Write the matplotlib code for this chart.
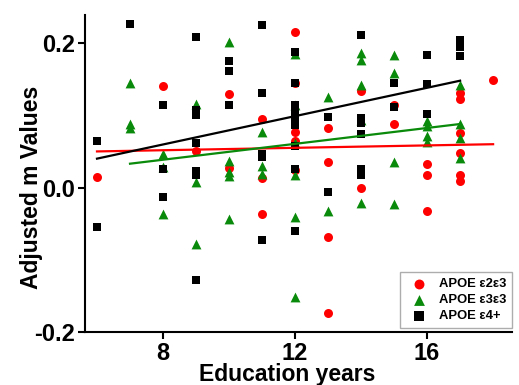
import matplotlib
matplotlib.use("Agg")
import matplotlib.pyplot as plt
import numpy as np

plt.rcParams["font.family"] = ["Liberation Sans", "DejaVu Sans"]
plt.rcParams["font.weight"] = "bold"

# APOE e2e3
e23_x = [6, 8, 9, 10, 10, 11, 11, 11, 12, 12, 12, 12, 12, 13, 13, 13, 13,
         14, 14, 15, 15, 16, 16, 16, 17, 17, 17, 17, 17, 17, 18]
e23_y = [0.014, 0.141, 0.051, 0.130, 0.027, 0.095, 0.013, -0.036,
         0.215, 0.145, 0.077, 0.065, 0.024, 0.082, 0.036, -0.068, -0.174,
         0.134, -0.001, 0.114, 0.088, 0.032, 0.017, -0.032,
         0.131, 0.122, 0.076, 0.048, 0.017, 0.009, 0.149]

# APOE e3e3
e33_x = [7, 7, 7, 8, 8, 8, 9, 9, 9, 10, 10, 10, 10, 10, 11, 11, 11,
         12, 12, 12, 12, 12, 12, 13, 13, 14, 14, 14, 14, 14,
         15, 15, 15, 15, 16, 16, 16, 16, 17, 17, 17, 17]
e33_y = [0.145, 0.088, 0.082, 0.046, 0.028, -0.036, 0.116, 0.007, -0.078,
         0.202, 0.037, 0.021, 0.016, -0.044, 0.077, 0.030, 0.019,
         0.185, 0.114, 0.062, 0.017, -0.041, -0.151, 0.126, -0.032,
         0.187, 0.176, 0.142, 0.093, -0.022,
         0.184, 0.158, 0.035, -0.023, 0.092, 0.085, 0.071, 0.063,
         0.142, 0.088, 0.068, 0.041]

# APOE e4+
e4_x = [6, 6, 7, 8, 8, 8, 9, 9, 9, 9, 9, 9, 9, 10, 10, 10,
        11, 11, 11, 11, 11, 12, 12, 12, 12, 12, 12, 12, 12, 12, 12,
        13, 13, 14, 14, 14, 14, 14, 14, 15, 15, 16, 16, 16, 17, 17, 17]
e4_y = [0.064, -0.055, 0.226, 0.114, 0.026, -0.013,
        0.208, 0.108, 0.101, 0.062, 0.023, 0.017, -0.128,
        0.175, 0.161, 0.114, 0.225, 0.131, 0.047, 0.042, -0.073,
        0.188, 0.145, 0.114, 0.107, 0.100, 0.093, 0.086, 0.057, 0.025, -0.060,
        0.098, -0.006, 0.212, 0.097, 0.090, 0.074, 0.025, 0.017,
        0.145, 0.111, 0.184, 0.144, 0.102, 0.205, 0.194, 0.182]

# fitted trend lines (end points)
e23_fit_x = [6, 18]
e23_fit_y = [0.050, 0.060]
e33_fit_x = [7, 17]
e33_fit_y = [0.033, 0.088]
e4_fit_x = [6, 17]
e4_fit_y = [0.040, 0.148]

fig = plt.figure(figsize=(5.19, 3.85), dpi=100)
ax = fig.add_axes([0.164, 0.138, 0.823, 0.823])

ax.scatter(e23_x, e23_y, marker="o", s=42, color="#ff0000", linewidths=0,
           label="APOE \u03b52\u03b53", zorder=3)
ax.scatter(e33_x, e33_y, marker="^", s=50, color="#0a8a0a", linewidths=0,
           label="APOE \u03b53\u03b53", zorder=4)
ax.scatter(e4_x, e4_y, marker="s", s=36, color="black", linewidths=0,
           label="APOE \u03b54+", zorder=5)

ax.plot(e23_fit_x, e23_fit_y, color="#ff0000", lw=1.6, zorder=6)
ax.plot(e33_fit_x, e33_fit_y, color="#0a8a0a", lw=1.6, zorder=6)
ax.plot(e4_fit_x, e4_fit_y, color="black", lw=1.6, zorder=6)

ax.set_xlim(5.64, 18.58)
ax.set_ylim(-0.2, 0.239)
ax.set_xticks([8, 12, 16])
ax.set_yticks([-0.2, 0.0, 0.2])
ax.set_yticklabels(["-0.2", "0.0", "0.2"])

for side in ["top", "right"]:
    ax.spines[side].set_visible(False)
for side in ["left", "bottom"]:
    ax.spines[side].set_linewidth(1.5)
ax.tick_params(direction="out", length=5, width=1.5, labelsize=17, pad=2)
for lab in ax.get_xticklabels() + ax.get_yticklabels():
    lab.set_fontweight("bold")

ax.set_xlabel("Education years", fontsize=16.5, fontweight="bold")
ax.xaxis.set_label_coords(0.473, -0.098)
ax.set_ylabel("Adjusted m Values", fontsize=16.5, fontweight="bold")
ax.yaxis.set_label_coords(-0.098, 0.455)

leg = ax.legend(loc="lower right", bbox_to_anchor=(1.0, 0.012), borderaxespad=0,
                frameon=True, fancybox=False, fontsize=9.4, handletextpad=0.5,
                borderpad=0.45, labelspacing=0.3, scatterpoints=1,
                markerscale=1.1)
leg.get_frame().set_edgecolor("#999999")
leg.get_frame().set_linewidth(1.0)
for t in leg.get_texts():
    t.set_fontweight("bold")

fig.savefig("out.png", dpi=100)
